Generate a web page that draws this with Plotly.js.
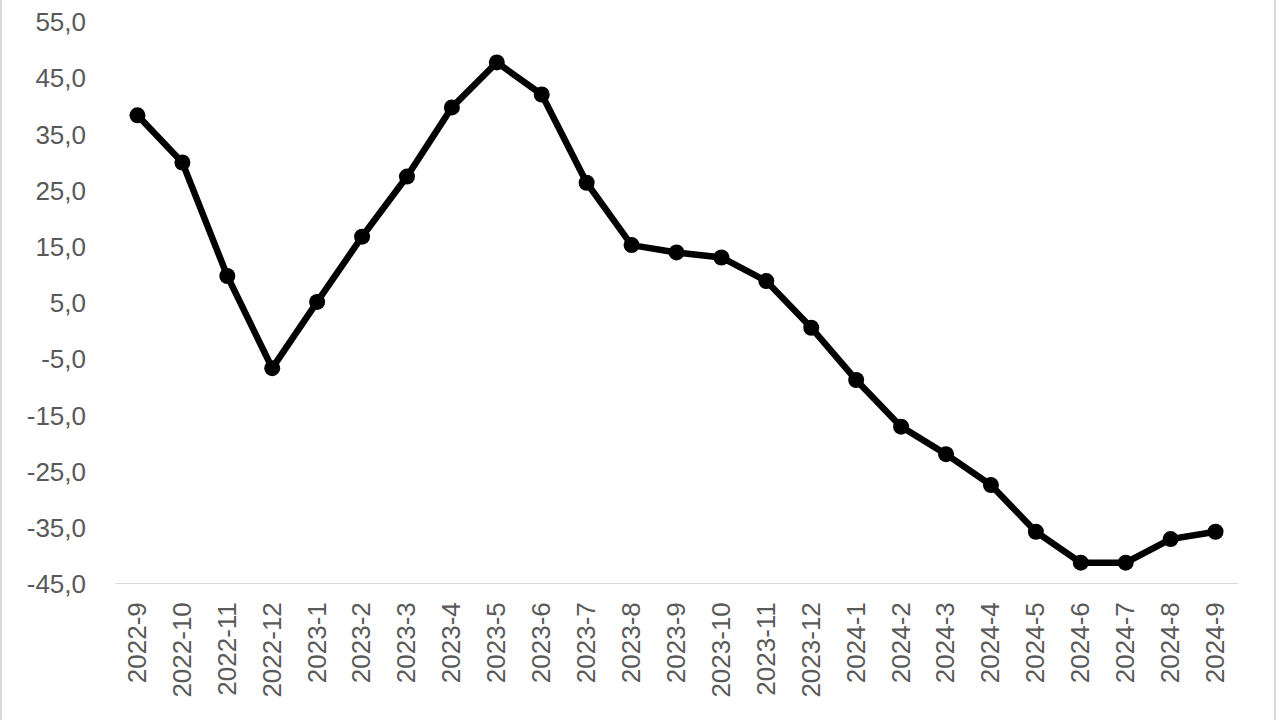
<!DOCTYPE html>
<html>
<head>
<meta charset="utf-8">
<script src="https://cdn.plot.ly/plotly-3.0.1.min.js"></script>
<style>
  html, body { margin: 0; padding: 0; background: #fff; }
  #chart { width: 1280px; height: 720px; position: relative; }
  .edge { position: absolute; top: 0; width: 2px; height: 720px; background: #d9d9d9; pointer-events: none; }
</style>
</head>
<body>
<div id="chart"></div>
<div class="edge" style="left:0px"></div>
<div class="edge" style="left:1274px"></div>
<script>
const months = ["2022-9","2022-10","2022-11","2022-12","2023-1","2023-2","2023-3","2023-4","2023-5","2023-6","2023-7","2023-8","2023-9","2023-10","2023-11","2023-12","2024-1","2024-2","2024-3","2024-4","2024-5","2024-6","2024-7","2024-8","2024-9"];
const values = [38.4, 30.0, 9.8, -6.6, 5.2, 16.8, 27.5, 39.8, 47.8, 42.1, 26.4, 15.3, 14.0, 13.1, 8.9, 0.6, -8.7, -17.0, -21.9, -27.4, -35.7, -41.2, -41.2, -37.0, -35.7];
const yTicks = [-45, -35, -25, -15, -5, 5, 15, 25, 35, 45, 55];
const yTickLabels = ["-45,0", "-35,0", "-25,0", "-15,0", "-5,0", "5,0", "15,0", "25,0", "35,0", "45,0", "55,0"];

const trace = {
  type: "scatter",
  mode: "lines+markers",
  x: months,
  y: values,
  line: { color: "#000000", width: 6.5 },
  marker: { color: "#000000", size: 16 },
  cliponaxis: false,
  hoverinfo: "x+y"
};

const layout = {
  width: 1280,
  height: 720,
  margin: { l: 114.5, r: 41.5, t: 22, b: 136 },
  paper_bgcolor: "#ffffff",
  plot_bgcolor: "#ffffff",
  showlegend: false,
  font: { family: "Liberation Sans, Arial, sans-serif", color: "#595959", size: 26 },
  xaxis: {
    type: "category",
    range: [-0.5, 24.5],
    tickangle: -90,
    showgrid: false,
    zeroline: false,
    showline: false,
    ticks: "",
    ticklabelstandoff: 12,
    tickfont: { size: 26, color: "#595959" }
  },
  yaxis: {
    range: [-45, 55],
    tickmode: "array",
    tickvals: yTicks,
    ticktext: yTickLabels,
    showgrid: false,
    zeroline: false,
    showline: false,
    ticks: "",
    ticklabelstandoff: 28,
    tickfont: { size: 26, color: "#595959" }
  },
  shapes: [
    { type: "line", xref: "paper", yref: "y", x0: 0, x1: 1, y0: -45, y1: -45,
      line: { color: "#d9d9d9", width: 2 }, layer: "below" }
  ]
};

Plotly.newPlot("chart", [trace], layout, { displayModeBar: false, staticPlot: true });
</script>
</body>
</html>
